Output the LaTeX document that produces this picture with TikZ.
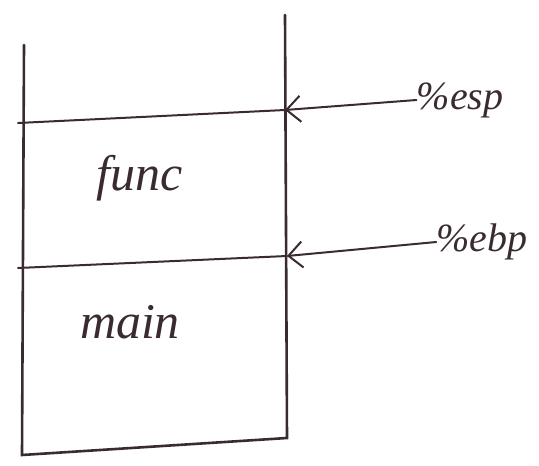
\documentclass[tikz,border=0pt]{standalone}
\usepackage{fontspec}
\setmainfont{Liberation Serif}
\usetikzlibrary{arrows.meta}
\definecolor{ink}{HTML}{3A2C2E}
\begin{document}
\begin{tikzpicture}[x=1pt,y=-1pt,
  inkline/.style={draw=ink,line width=2.6pt,line cap=round},
  divider/.style={inkline,line width=2pt},
  ptr/.style={inkline,line width=2pt,-{Straight Barb[length=14pt,width=26pt,line width=2pt]}},
  lbl/.style={text=ink,font=\itshape\fontsize{40}{42}\selectfont,inner sep=0pt},
  frame/.style={text=ink,font=\itshape\fontsize{50}{52}\selectfont,inner sep=0pt}]
\useasboundingbox (0,0) rectangle (539,466);
% stack frame outline
\coordinate (lt) at (24,45);
\coordinate (lb) at (22,455);
\coordinate (rt) at (285,15);
\coordinate (rb) at (287,438);
\draw[inkline] (lt) -- (lb) -- (rb) -- (rt);
% dividers
\coordinate (d1l) at (18,123);
\coordinate (d1r) at (285,110);
\coordinate (d2l) at (18,268);
\coordinate (d2r) at (287,256);
\draw[divider] (d1l) -- (d1r);
\draw[divider] (d2l) -- (d2r);
% labels
\node[frame] (func) at (140,178) {func};
\node[frame] (main) at (130,322) {main};
\node[lbl] (esp) at (460,100) {\%esp};
\node[lbl] (ebp) at (482,242) {\%ebp};
% pointers
\draw[ptr] (esp.west) -- (d1r);
\draw[ptr] (ebp.west) -- (d2r);
\end{tikzpicture}
\end{document}
